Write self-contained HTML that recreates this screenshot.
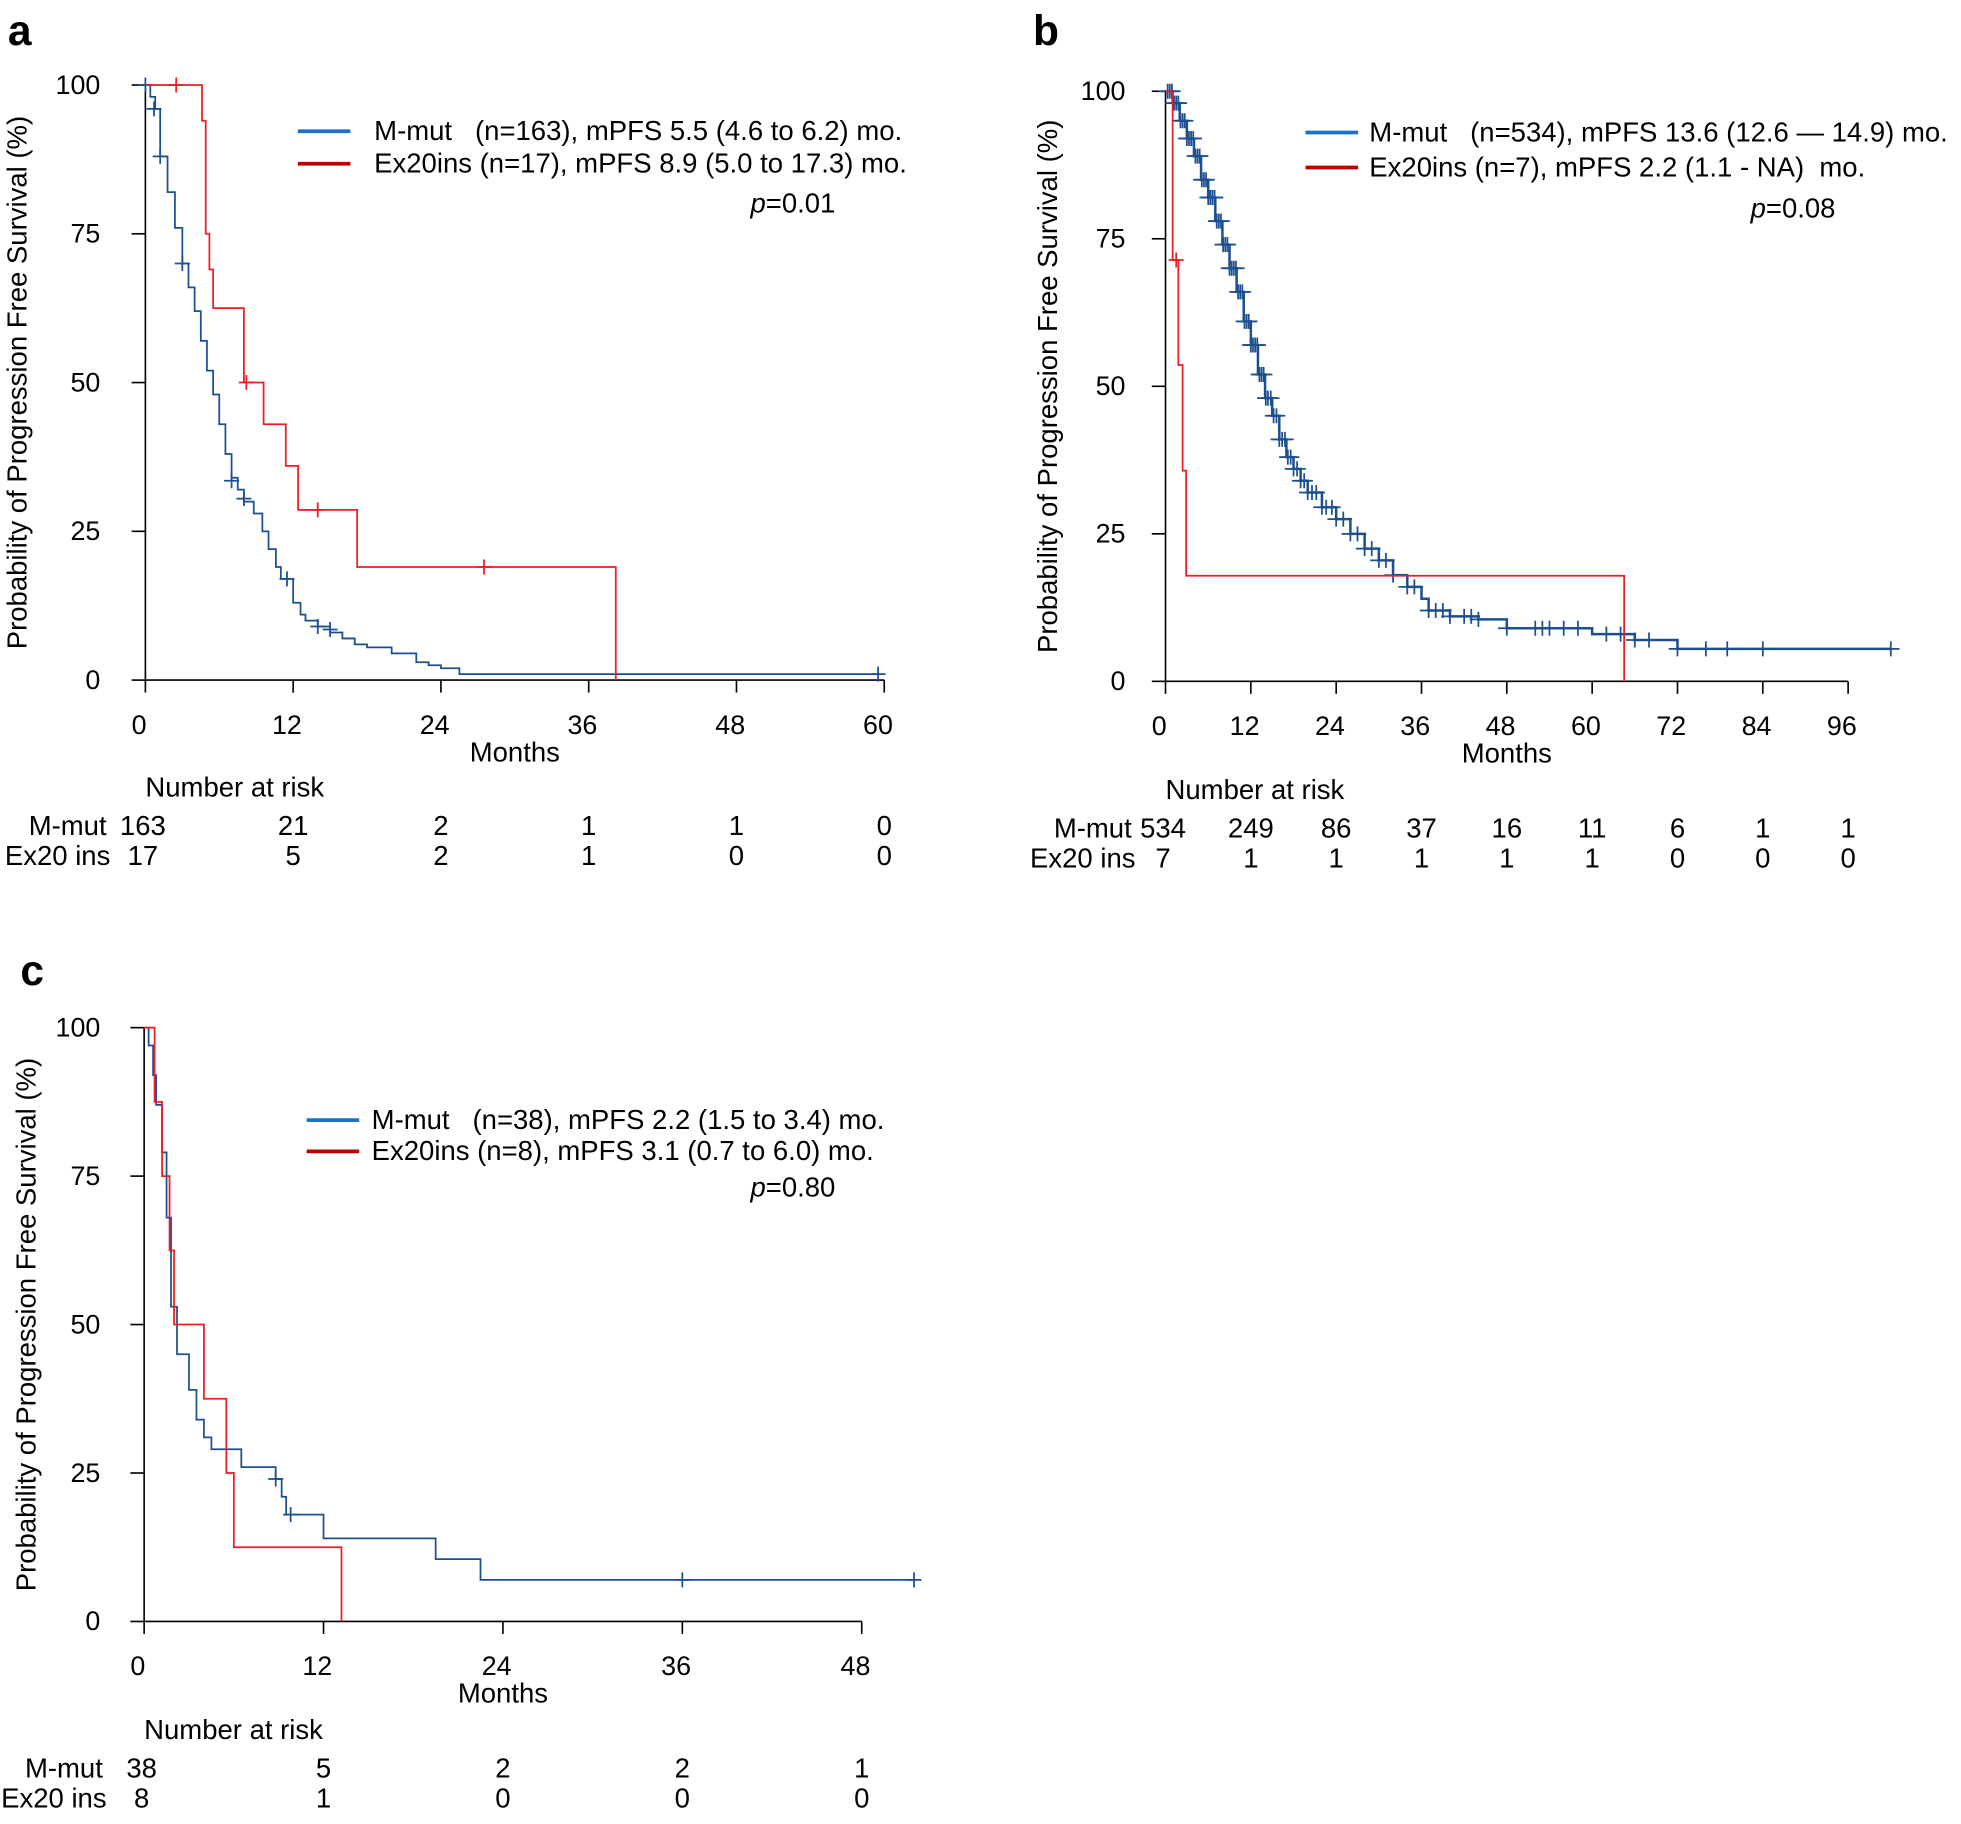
<!DOCTYPE html>
<html><head><meta charset="utf-8"><style>
html,body{margin:0;padding:0;background:#fff;}
svg{display:block;font-family:"Liberation Sans",Arial,sans-serif;}
.pre{white-space:pre;}
</style></head><body>
<svg id="fig" width="1961" height="1824" viewBox="0 0 1568 1459" xmlns="http://www.w3.org/2000/svg"></svg>
<script>
// ---- Panel a data ----
const aTicksX = [0,12,24,36,48,60];
const aMutSteps = [[0,100],[0.4,98],[0.8,96],[1.2,88],[1.8,82],[2.4,76],[3,70],[3.5,66],[4,62],[4.5,57],[5,52],[5.5,48],[6,43],[6.5,38],[7,34],[7.5,32],[8,30],[8.8,28],[9.5,25],[10,22],[10.6,19],[11,17],[12,13],[12.6,11],[13,10],[14,9],[15,8],[16,7],[17,6],[18,5.5],[20,4.5],[22,3],[23,2.5],[24,2],[25.5,1],[59.5,1]];
const aMutCens = [[0,100],[0.7,96],[1.2,88],[3,70],[7,33.5],[8,30.5],[11.5,17],[14,9],[15,8.5],[59.5,1]];
const aExSteps = [[0,100],[4.6,94],[4.9,75],[5.2,69],[5.5,62.5],[8,50],[9.6,43],[11.4,36],[12.4,28.6],[17.2,19],[38.2,0]];
const aExCens = [[2.5,100],[8.2,50],[14,28.6],[27.5,19]];
const aRiskMut = [163,21,2,1,1,0];
const aRiskEx = [17,5,2,1,0,0];
// ---- Panel b data ----
const bTicksX = [0,12,24,36,48,60,72,84,96];
const bMutSteps = [[0,100],[1,98],[2,95],[3,92],[4,89],[5,85],[6,82],[7,78],[8,74],[9,70],[10,66],[11,61],[12,57],[13,52],[14,48],[15,45],[16,41],[17,38],[18,36],[19,34],[20,32],[22,29.5],[24,27.5],[26,25],[28,22.5],[30,20.5],[32,18],[34,16],[36,14],[37,12],[40,11],[44,10.5],[48,9],[56,9],[60,8],[66,7],[72,5.5],[102,5.5]];
const bMutCens = [0.3,0.6,0.9,1.2,1.5,1.8,2.1,2.4,2.7,3,3.3,3.6,3.9,4.2,4.5,4.8,5.1,5.4,5.7,6,6.3,6.6,6.9,7.2,7.5,7.8,8.1,8.4,8.7,9,9.3,9.6,9.9,10.2,10.5,10.8,11.1,11.4,11.7,12,12.3,12.6,12.9,13.2,13.5,13.8,14.1,14.4,14.8,15.2,15.6,16,16.4,16.8,17.2,17.6,18,18.5,19,19.5,20,20.6,21.2,22,22.6,23.4,24,25,26,27,28,29,30,31,32,34,35,37,38,39,40,42,43,44,48,52,53,54,56,58,62,64,66,68,72,76,79,84,102];
const bExSteps = [[0,100],[1.0,71.4],[1.8,53.6],[2.4,35.7],[2.9,17.9],[64.5,0]];
const bExCens = [[1.5,71.4]];
const bRiskMut = [534,249,86,37,16,11,6,1,1];
const bRiskEx = [7,1,1,1,1,1,0,0,0];
// ---- Panel c data ----
const cTicksX = [0,12,24,36,48];
const cMutSteps = [[0,100],[0.3,97],[0.6,92],[0.8,87],[1.2,79],[1.5,68],[1.8,53],[2.2,45],[3,39],[3.5,34],[4,31],[4.5,29],[6.5,26],[8.8,24],[9.2,21],[9.5,18],[12,14],[19.5,10.5],[22.5,7],[51.5,7]];
const cMutCens = [[8.8,24],[9.8,18],[36,7],[51.5,7]];
const cExSteps = [[0,100],[0.7,87.5],[1.2,75],[1.7,62.5],[2,50],[4,37.5],[5.5,25],[6,12.5],[13.2,0]];
const cExCens = [];
const cRiskMut = [38,5,2,2,1];
const cRiskEx = [8,1,0,0,0];
const yTicks = [0,25,50,75,100];

const NS="http://www.w3.org/2000/svg";
const svg=document.getElementById('fig');
function mk(tag,attrs,parent,text){const e=document.createElementNS(NS,tag);for(const k in attrs)e.setAttribute(k,attrs[k]);if(text!==undefined)e.textContent=text;(parent||svg).appendChild(e);return e;}
const BLUE="#1c4f8f", RED="#ee1c24";
const FS=22, TFS=21.5;

function panel(o){
  const g=mk('g',{});
  
  
  const sx=t=>o.x0+(t/o.xmax)*(o.x1-o.x0);
  const sy=v=>o.y0+(100-v)/100*(o.yb-o.y0);
  const lt=mk('text',{x:o.lx,y:o.ly,'font-size':34,'font-weight':'bold'},g,o.letter);
  
  const ya=mk('line',{x1:o.x0,y1:sy(100),x2:o.x0,y2:o.yb,stroke:'#000','stroke-width':1.3},g);
  
  const xa=mk('line',{x1:o.x0,y1:o.yb,x2:sx(o.ticks[o.ticks.length-1]),y2:o.yb,stroke:'#000','stroke-width':1.3},g);
  
  yTicks.forEach(v=>{
    mk('line',{x1:o.x0-11,y1:sy(v),x2:o.x0,y2:sy(v),stroke:'#000','stroke-width':1.3},g);
    const t=mk('text',{x:o.x0-o.yOff,y:sy(v)+7,'font-size':TFS,'text-anchor':'end'},g,v);
    
  });
  o.ticks.forEach(v=>{
    mk('line',{x1:sx(v),y1:o.yb,x2:sx(v),y2:o.yb+10,stroke:'#000','stroke-width':1.3},g);
    const t=mk('text',{x:sx(v)-5,y:o.yb+43,'font-size':TFS,'text-anchor':'middle'},g,v);
    
  });
  const xt=mk('text',{x:(o.x0+sx(o.ticks[o.ticks.length-1]))/2,y:o.yb+65,'font-size':FS,'text-anchor':'middle'},g,'Months');
  
  const yt=mk('text',{x:0,y:0,'font-size':FS,'text-anchor':'middle',transform:`translate(${o.x0-o.ytOff},${(sy(100)+o.yb)/2}) rotate(-90)`},g,'Probability of Progression Free Survival (%)');
  
  function curve(steps,cens,color,name,sw,cs){
    let d=`M${sx(steps[0][0])},${sy(steps[0][1])}`;
    for(let i=1;i<steps.length;i++){d+=` H${sx(steps[i][0])} V${sy(steps[i][1])}`;}
    const p=mk('path',{d:d,fill:'none',stroke:color,'stroke-width':sw},g);
    
    cens.forEach(c=>{
      const cx=sx(c[0]),cy=sy(c[1]);
      const m=mk('path',{d:`M${cx-cs},${cy} H${cx+cs} M${cx},${cy-6} V${cy+6}`,stroke:color,'stroke-width':1.4},g);
      
    });
  }
  function survAt(steps,t){let v=100;for(const s of steps){if(s[0]<=t)v=s[1];}return v;}
  const mc=o.mutCens.map(c=>Array.isArray(c)?c:[c,survAt(o.mutSteps,c)]);
  curve(o.mutSteps,mc,BLUE,'m-mut',o.letter==='b'?2:1.4,o.letter==='b'?7:6);
  curve(o.exSteps,o.exCens,RED,'ex20ins',1.4,6);
  o.leg.forEach((L,i)=>{
    const y=o.legY+i*o.legDy;
    const ln=mk('line',{x1:o.legX,y1:y-7,x2:o.legX+42,y2:y-7,stroke:i?'#c00000':'#1a72c4','stroke-width':3},g);
    
    const t=mk('text',{x:o.legX+o.legTx,y:y,'font-size':FS,'class':'pre'},g,L);
    
  });
  const pv=mk('text',{x:o.pX,y:o.pY,'font-size':FS},g);
  
  mk('tspan',{'font-style':'italic'},pv,'p');mk('tspan',{},pv,'='+o.p);
  const rt=mk('text',{x:o.x0,y:o.riskY,'font-size':FS},g,'Number at risk');
  
  [[o.rMut,'M-mut',o.riskY+31,o.rLabX],[o.rEx,'Ex20 ins',o.riskY+55,o.rLabX+3]].forEach(([arr,lab,y,lx])=>{
    const l=mk('text',{x:lx,y:y,'font-size':FS,'text-anchor':'end'},g,lab);
    
    arr.forEach((n,i)=>{
      const x=i===0?sx(0)-2:sx(o.ticks[i]);
      const t=mk('text',{x:x,y:y,'font-size':FS,'text-anchor':'middle'},g,n);
      
    });
  });
}
panel({letter:'a',lx:6,ly:36,x0:116,x1:707,xmax:60,y0:68,yb:544,ticks:aTicksX,yOff:36,ytOff:95,
  mutSteps:aMutSteps,mutCens:aMutCens,exSteps:aExSteps,exCens:aExCens,
  leg:['M-mut   (n=163), mPFS 5.5 (4.6 to 6.2) mo.','Ex20ins (n=17), mPFS 8.9 (5.0 to 17.3) mo.'],legX:238,legTx:61,legY:112,legDy:26,pX:600,pY:170,p:'0.01',
  riskY:637,rMut:aRiskMut,rEx:aRiskEx,rLabX:85});
panel({letter:'b',lx:826,ly:36,x0:932,x1:1478,xmax:96,y0:73,yb:545,ticks:bTicksX,yOff:32,ytOff:87,
  mutSteps:bMutSteps,mutCens:bMutCens,exSteps:bExSteps,exCens:bExCens,
  leg:['M-mut   (n=534), mPFS 13.6 (12.6 — 14.9) mo.','Ex20ins (n=7), mPFS 2.2 (1.1 - NA)  mo.'],legX:1044,legTx:51,legY:113,legDy:28,pX:1400,pY:174,p:'0.08',
  riskY:639,rMut:bRiskMut,rEx:bRiskEx,rLabX:905});
panel({letter:'c',lx:16,ly:788,x0:115,x1:689,xmax:48,y0:822,yb:1297,ticks:cTicksX,yOff:35,ytOff:87,
  mutSteps:cMutSteps,mutCens:cMutCens,exSteps:cExSteps,exCens:cExCens,
  leg:['M-mut   (n=38), mPFS 2.2 (1.5 to 3.4) mo.','Ex20ins (n=8), mPFS 3.1 (0.7 to 6.0) mo.'],legX:245,legTx:52,legY:903,legDy:25,pX:600,pY:957,p:'0.80',
  riskY:1391,rMut:cRiskMut,rEx:cRiskEx,rLabX:82});
</script>
</body></html>
